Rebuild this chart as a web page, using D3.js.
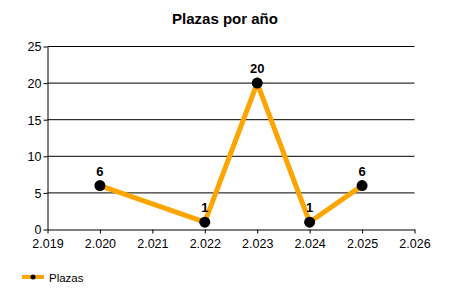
<!DOCTYPE html>
<html><head><meta charset="utf-8">
<script src="https://cdn.jsdelivr.net/npm/d3@7"></script>
<style>body{margin:0;background:#fff}svg{display:block}text{font-family:"Liberation Sans",Arial,sans-serif}</style>
</head><body><svg id="c" width="450" height="300"></svg>
<script>
const years = [2020, 2022, 2023, 2024, 2025];
const plazas = [6, 1, 20, 1, 6];
const xTicks = [2019, 2020, 2021, 2022, 2023, 2024, 2025, 2026];
const yTicks = [0, 5, 10, 15, 20, 25];
const title = "Plazas por año";
const seriesName = "Plazas";

const svg = d3.select("#c");
const x = d3.scaleLinear().domain([2019, 2026]).range([47.5, 414.5]);
const y = d3.scaleLinear().domain([0, 25]).range([229.5, 46.5]);
const fmt = d => d3.format(".3f")(d / 1000);

svg.append("text").attr("x", 225).attr("y", 23.5).attr("text-anchor", "middle")
  .attr("font-size", 15).attr("font-weight", "bold").text(title);

// gridlines
svg.append("g").selectAll("line").data(yTicks.slice(1)).join("line")
  .attr("x1", x(2019)).attr("x2", x(2026)).attr("y1", d => y(d)).attr("y2", d => y(d))
  .attr("stroke", "#000").attr("stroke-width", 1);

const xa = svg.append("g").attr("transform", `translate(0,${y(0)})`)
  .call(d3.axisBottom(x).tickValues(xTicks).tickFormat(fmt).tickSize(4).tickSizeOuter(0));
const ya = svg.append("g").attr("transform", `translate(${x(2019)},0)`)
  .call(d3.axisLeft(y).tickValues(yTicks).tickSize(4).tickSizeOuter(0));
[xa, ya].forEach(a => {
  a.select(".domain").attr("stroke", "#000");
  a.selectAll("line").attr("stroke", "#000");
  a.selectAll("text").attr("fill", "#000").attr("font-size", 12.5).attr("font-family", '"Liberation Sans",Arial,sans-serif');
});
xa.selectAll("text").attr("dy", "0.95em");
ya.selectAll("text").attr("x", -6).attr("dy", "0.35em");

const data = years.map((d, i) => ({ x: d, y: plazas[i] }));
svg.append("path").datum(data)
  .attr("d", d3.line().x(d => x(d.x)).y(d => y(d.y)))
  .attr("fill", "none").attr("stroke", "#FFA500").attr("stroke-width", 5).attr("stroke-linejoin", "miter");
svg.append("g").selectAll("circle").data(data).join("circle")
  .attr("cx", d => x(d.x)).attr("cy", d => y(d.y)).attr("r", 5.5).attr("fill", "#000");
svg.append("g").selectAll("text").data(data).join("text")
  .attr("x", d => x(d.x)).attr("y", d => y(d.y) - 10).attr("text-anchor", "middle")
  .attr("font-size", 13).attr("font-weight", "bold").text(d => d.y);

// legend
svg.append("line").attr("x1", 22).attr("x2", 44).attr("y1", 277).attr("y2", 277)
  .attr("stroke", "#FFA500").attr("stroke-width", 4);
svg.append("circle").attr("cx", 33).attr("cy", 277).attr("r", 2.5).attr("fill", "#000");
svg.append("text").attr("x", 49).attr("y", 281.5).attr("font-size", 11.5).attr("fill", "#000").text(seriesName);
</script></body></html>
